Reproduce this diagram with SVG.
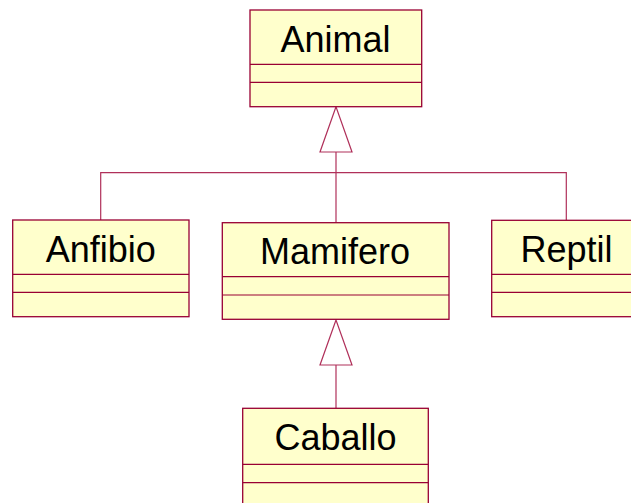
<svg xmlns="http://www.w3.org/2000/svg" width="631" height="503" viewBox="0 0 631 503">
<style>
.box{fill:#ffffcc;stroke:#990033;stroke-width:1.3}
.div{stroke:#990033;stroke-width:1.2;fill:none}
.lbl{font-family:"Liberation Sans",Arial,sans-serif;font-size:36px;fill:#000;text-anchor:middle}
.con{stroke:#b0305a;stroke-width:1.2;fill:none}
.tri{fill:#fff;stroke:#b0305a;stroke-width:1.2}
</style>
<rect width="631" height="503" fill="#fff"/>
<g id="connectors">
<polyline class="con" points="100.7,220 100.7,172.7 566.3,172.7 566.3,220.3"/>
<line class="con" x1="336" y1="152" x2="336" y2="222.7"/>
<polygon class="tri" points="336,106.7 320,152 352,152"/>
<line class="con" x1="336" y1="365" x2="336" y2="408.3"/>
<polygon class="tri" points="336,320 320,365 352,365"/>
</g>
<g id="Animal">
<rect class="box" x="250" y="10" width="171.7" height="96.7"/>
<line class="div" x1="250" y1="64.3" x2="421.7" y2="64.3"/>
<line class="div" x1="250" y1="82.3" x2="421.7" y2="82.3"/>
<text class="lbl" x="335.5" y="52">Animal</text>
</g>
<g id="Anfibio">
<rect class="box" x="12.7" y="220" width="176.3" height="96.7"/>
<line class="div" x1="12.7" y1="274.3" x2="189" y2="274.3"/>
<line class="div" x1="12.7" y1="292.3" x2="189" y2="292.3"/>
<text class="lbl" x="100.8" y="261.5">Anfibio</text>
</g>
<g id="Mamifero">
<rect class="box" x="222.3" y="222.7" width="226.7" height="96.6"/>
<line class="div" x1="222.3" y1="276.7" x2="449" y2="276.7"/>
<line class="div" x1="222.3" y1="295" x2="449" y2="295"/>
<text class="lbl" x="335" y="264">Mamifero</text>
</g>
<g id="Reptil">
<rect class="box" x="491.7" y="220.3" width="150" height="96.4"/>
<line class="div" x1="491.7" y1="274.3" x2="641.7" y2="274.3"/>
<line class="div" x1="491.7" y1="292.3" x2="641.7" y2="292.3"/>
<text class="lbl" x="566.5" y="261.5">Reptil</text>
</g>
<g id="Caballo">
<rect class="box" x="242.7" y="408.3" width="185.6" height="110"/>
<line class="div" x1="242.7" y1="464.3" x2="428.3" y2="464.3"/>
<line class="div" x1="242.7" y1="482.7" x2="428.3" y2="482.7"/>
<text class="lbl" x="335.5" y="450">Caballo</text>
</g>
</svg>
